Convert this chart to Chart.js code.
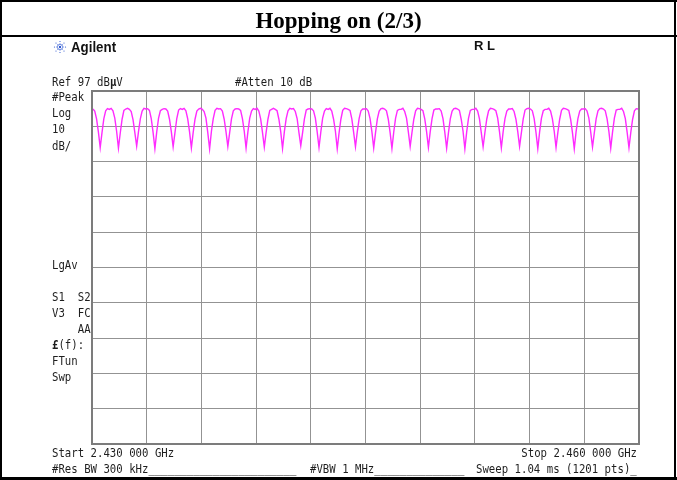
<!DOCTYPE html>
<html>
<head>
<meta charset="utf-8">
<script src="https://cdn.jsdelivr.net/npm/chart.js@4/dist/chart.umd.min.js"></script>
<style>
  html,body{margin:0;padding:0;background:#fff;}
  #wrap{position:relative;width:677px;height:480px;overflow:hidden;background:#fff;}
  #c{position:absolute;left:0;top:0;}
  .ln{position:absolute;background:#000;}
  .t{position:absolute;font-family:'DejaVu Sans Mono',monospace;font-size:12px;line-height:12px;color:#1e1e1e;white-space:pre;transform:scaleX(0.89);transform-origin:left center;}
  .tr{transform-origin:right center;}
  #title{position:absolute;left:2px;right:2px;top:7px;text-align:center;font-family:'Liberation Serif','Times New Roman',serif;font-weight:bold;font-size:23px;line-height:27px;color:#000;}
  #agilent{position:absolute;left:71px;top:40px;font-family:'Liberation Sans',Arial,sans-serif;font-weight:bold;font-size:14px;line-height:14px;color:#111;transform:scaleX(0.95);transform-origin:left center;}
  #rl{position:absolute;left:474px;top:39px;font-family:'Liberation Sans',Arial,sans-serif;font-weight:bold;font-size:13px;line-height:14px;color:#111;}
</style>
</head>
<body>
<div id="wrap">
  <canvas id="c" width="677" height="480"></canvas>
  <div class="ln" style="left:0;top:0;width:677px;height:2px"></div>
  <div class="ln" style="left:0;top:0;width:2px;height:480px"></div>
  <div class="ln" style="left:674px;top:0;width:2px;height:480px"></div>
  <div class="ln" style="left:0;top:35px;width:677px;height:2px"></div>
  <div class="ln" style="left:0;top:477px;width:677px;height:3px"></div>
  <div id="title">Hopping on (2/3)</div>
  <svg style="position:absolute;left:53px;top:40px" width="14" height="14" viewBox="0 0 14 14">
    <g fill="#2a55d0">
      <circle cx="7" cy="7" r="1.2"/>
      <circle cx="7" cy="4.2" r="0.8"/><circle cx="7" cy="9.8" r="0.8"/>
      <circle cx="4.2" cy="7" r="0.8"/><circle cx="9.8" cy="7" r="0.8"/>
      <circle cx="5" cy="5" r="0.8"/><circle cx="9" cy="9" r="0.8"/>
      <circle cx="9" cy="5" r="0.8"/><circle cx="5" cy="9" r="0.8"/>
      <circle cx="7" cy="1.5" r="0.6"/><circle cx="7" cy="12.5" r="0.6"/>
      <circle cx="1.5" cy="7" r="0.6"/><circle cx="12.5" cy="7" r="0.6"/>
      <circle cx="3" cy="3" r="0.6"/><circle cx="11" cy="11" r="0.6"/>
      <circle cx="11" cy="3" r="0.6"/><circle cx="3" cy="11" r="0.6"/>
    </g>
  </svg>
  <div id="agilent">Agilent</div>
  <div id="rl">R L</div>

  <div class="t" style="left:52px;top:76px">Ref 97 dB<b>µ</b>V</div>
  <div class="t" style="left:235px;top:76px">#Atten 10 dB</div>
  <div class="t" style="left:52px;top:91px">#Peak</div>
  <div class="t" style="left:52px;top:107px">Log</div>
  <div class="t" style="left:52px;top:123px">10</div>
  <div class="t" style="left:52px;top:140px">dB/</div>
  <div class="t" style="left:52px;top:259px">LgAv</div>
  <div class="t" style="left:52px;top:291px">S1  S2</div>
  <div class="t" style="left:52px;top:307px">V3  FC</div>
  <div class="t" style="left:52px;top:323px">    AA</div>
  <div class="t" style="left:52px;top:339px"><b>£</b>(f):</div>
  <div class="t" style="left:52px;top:355px">FTun</div>
  <div class="t" style="left:52px;top:371px">Swp</div>

  <div class="t" style="left:52px;top:447px">Start 2.430 000 GHz</div>
  <div class="t tr" style="right:40px;top:447px">Stop 2.460 000 GHz</div>
  <div class="t" style="left:52px;top:463px">#Res BW 300 kHz_______________________</div>
  <div class="t" style="left:310px;top:463px">#VBW 1 MHz______________</div>
  <div class="t" style="left:476px;top:463px">Sweep 1.04 ms (1201 pts)_</div>
</div>
<script>
// Sweep: 2.430 GHz to 2.460 GHz, trace sampled every 0.1 MHz starting at 2430.05 MHz
const startMHz = 2430;
const stopMHz = 2460;
const firstSampleMHz = 2430.05;
const sampleStepMHz = 0.1;
const refLevel = 97;       // dBµV, top of screen
const dbPerDiv = 10;
const xGridMHz = [2430, 2433, 2436, 2439, 2442, 2445, 2448, 2451, 2454, 2457, 2460];
const yGridDb = [-3, 7, 17, 27, 37, 47, 57, 67, 77, 87, 97];

const traceDbuV = [
  91.9, 91.3, 89.1, 85.4, 81.0, 85.3, 89.2, 91.4, 92.0, 91.8,
  92.1, 91.4, 89.3, 85.6, 80.8, 85.1, 89.0, 91.5, 91.9, 92.1,
  91.8, 91.2, 88.9, 85.2, 81.4, 85.5, 89.1, 91.3, 92.1, 91.9,
  92.0, 91.5, 89.2, 85.3, 80.7, 85.4, 89.3, 91.4, 91.8, 92.0,
  91.9, 91.3, 89.0, 85.5, 81.2, 85.2, 89.2, 91.6, 92.0, 91.8,
  92.1, 91.4, 89.1, 85.4, 80.9, 85.3, 89.0, 91.3, 91.9, 92.1,
  91.8, 91.2, 89.3, 85.2, 80.6, 85.6, 89.2, 91.5, 92.1, 91.9,
  92.0, 91.3, 89.0, 85.4, 81.3, 85.2, 89.1, 91.4, 91.9, 92.0,
  91.9, 91.5, 89.2, 85.6, 80.8, 85.4, 89.3, 91.3, 92.0, 91.8,
  92.1, 91.3, 89.1, 85.3, 81.1, 85.3, 89.0, 91.5, 91.8, 92.1,
  91.8, 91.4, 89.0, 85.5, 80.7, 85.5, 89.2, 91.4, 92.1, 91.9,
  92.0, 91.2, 89.2, 85.2, 81.5, 85.2, 89.1, 91.6, 91.9, 92.0,
  91.9, 91.4, 89.3, 85.4, 81.0, 85.4, 89.3, 91.3, 92.0, 91.8,
  92.1, 91.3, 89.0, 85.6, 80.6, 85.1, 89.0, 91.5, 92.1, 92.0,
  91.8, 91.5, 89.1, 85.3, 81.2, 85.5, 89.2, 91.4, 91.9, 91.9,
  92.0, 91.3, 89.2, 85.5, 80.9, 85.2, 89.1, 91.3, 92.0, 92.1,
  91.9, 91.4, 89.0, 85.2, 80.7, 85.4, 89.3, 91.5, 91.8, 91.8,
  92.1, 91.2, 89.3, 85.4, 81.3, 85.3, 89.0, 91.4, 92.1, 92.0,
  91.8, 91.4, 89.1, 85.5, 81.0, 85.5, 89.2, 91.6, 91.9, 91.9,
  92.0, 91.3, 89.2, 85.3, 80.8, 85.2, 89.1, 91.3, 92.0, 92.1,
  91.9, 91.5, 89.0, 85.6, 80.6, 85.4, 89.3, 91.5, 91.8, 91.8,
  92.1, 91.3, 89.1, 85.2, 81.2, 85.3, 89.0, 91.4, 92.1, 92.0,
  91.8, 91.4, 89.3, 85.4, 80.9, 85.5, 89.2, 91.3, 91.9, 91.9,
  92.0, 91.2, 89.0, 85.5, 81.3, 85.2, 89.1, 91.6, 92.0, 92.1,
  91.9, 91.4, 89.2, 85.3, 80.7, 85.4, 89.3, 91.4, 91.8, 91.8,
  92.1, 91.3, 89.1, 85.6, 81.0, 85.3, 89.0, 91.5, 92.1, 92.0,
  91.8, 91.5, 89.0, 85.2, 80.6, 85.5, 89.2, 91.3, 91.9, 91.9,
  92.0, 91.3, 89.3, 85.4, 81.1, 85.2, 89.1, 91.4, 92.0, 92.1,
  91.9, 91.4, 89.1, 85.5, 80.8, 85.4, 89.3, 91.6, 91.8, 91.8,
  92.1, 91.2, 89.2, 85.3, 80.9, 85.3, 89.0, 91.4, 92.0, 91.9
];

const points = traceDbuV.map((v, i) => ({x: firstSampleMHz + i * sampleStepMHz, y: v}));

const frame = {
  id: 'frame',
  afterDraw(chart) {
    const {ctx, chartArea: a} = chart;
    ctx.save();
    ctx.strokeStyle = '#7c7c7c';
    ctx.lineWidth = 2;
    ctx.strokeRect(a.left, a.top, a.right - a.left, a.bottom - a.top);
    ctx.restore();
  }
};

new Chart(document.getElementById('c'), {
  type: 'line',
  data: {
    datasets: [{
      data: points,
      borderColor: '#ff2bff',
      borderWidth: 1.4,
      pointRadius: 0,
      tension: 0,
      fill: false
    }]
  },
  options: {
    responsive: false,
    animation: false,
    devicePixelRatio: 1,
    layout: {padding: {left: 92, top: 91, right: 38, bottom: 36}},
    plugins: {legend: {display: false}, tooltip: {enabled: false}},
    scales: {
      x: {
        type: 'linear', min: startMHz, max: stopMHz,
        afterBuildTicks: s => { s.ticks = xGridMHz.map(v => ({value: v})); },
        ticks: {display: false},
        grid: {color: '#939393', lineWidth: 1, drawTicks: false},
        border: {display: false}
      },
      y: {
        type: 'linear', min: refLevel - 10 * dbPerDiv, max: refLevel,
        afterBuildTicks: s => { s.ticks = yGridDb.map(v => ({value: v})); },
        ticks: {display: false},
        grid: {color: '#939393', lineWidth: 1, drawTicks: false},
        border: {display: false}
      }
    }
  },
  plugins: [frame]
});
</script>
</body>
</html>
